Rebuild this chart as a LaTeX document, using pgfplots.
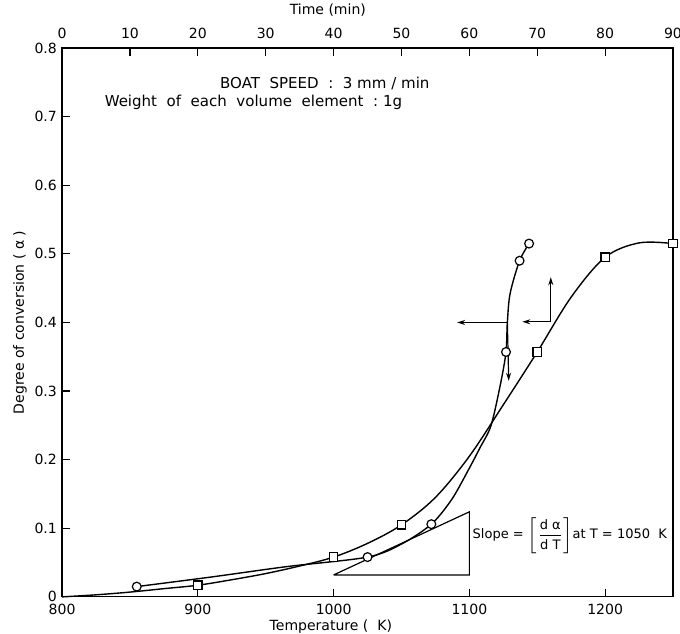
\documentclass[border=0pt]{standalone}
\usepackage{fontspec}
\setmainfont{DejaVu Sans}
\usepackage{pgfplots}
\pgfplotsset{compat=1.18}
\usetikzlibrary{arrows.meta}

\begin{document}
\fontsize{7}{8}\selectfont
\begin{tikzpicture}
\pgfplotsset{
  every axis/.append style={
    scale only axis, width=305pt, height=274pt,
    /pgf/number format/assume math mode=true,
    /pgf/number format/1000 sep={},
    tick label style={font=\fontsize{7}{8}\selectfont},
    label style={font=\fontsize{7}{8}\selectfont},
    tick align=inside, major tick length=4pt,
    line width=0.6pt, tick style={line width=0.6pt, black},
  }
}
\begin{axis}[
  xmin=800, xmax=1250, ymin=0, ymax=0.8,
  xtick={800,900,1000,1100,1200},
  ytick={0,0.1,0.2,0.3,0.4,0.5,0.6,0.7,0.8},
  yticklabels={0,0.1,0.2,0.3,0.4,0.5,0.6,0.7,0.8},
  xtick pos=left, ytick pos=left,
  xticklabel style={yshift=-1pt},
  xlabel={Temperature (\ \ K)},
  ylabel={Degree of conversion ( α )},
  xlabel style={at={(axis description cs:0.44,-0.054)}, anchor=center},
  ylabel style={at={(axis description cs:-0.069,0.5)}, anchor=center},
  clip=false,
]
\coordinate (a) at (rel axis cs:0,0);
\coordinate (b) at (rel axis cs:1,1);
% square series: read curve points
\addplot[black, line width=0.7pt, smooth, tension=0.55] coordinates {
  (800,0) (825,0.003) (850,0.007) (875,0.012) (900,0.017) (925,0.025)
  (950,0.034) (975,0.045) (1000,0.058) (1025,0.078) (1050,0.105)
  (1075,0.145) (1100,0.205) (1125,0.280) (1150,0.357) (1175,0.437)
  (1200,0.495) (1225,0.516) (1250,0.515)};
% circle series: read curve points
\addplot[black, line width=0.7pt, smooth, tension=0.5] coordinates {
  (855,0.015) (910,0.029) (965,0.044) (1025,0.058) (1050,0.077)
  (1072,0.106) (1087,0.142) (1099,0.184) (1108,0.218) (1116,0.250)
  (1123,0.311) (1127,0.357) (1128,0.400) (1130,0.442) (1137,0.490)
  (1144,0.515)};
% markers
\addplot[only marks, mark=square*, mark size=2.1pt, mark options={fill=white, draw=black, line width=0.6pt}] coordinates {
  (900,0.017) (1000,0.058) (1050,0.105) (1150,0.357) (1200,0.495) (1250,0.515)};
\addplot[only marks, mark=*, mark size=2.2pt, mark options={fill=white, draw=black, line width=0.6pt}] coordinates {
  (855,0.015) (1025,0.058) (1072,0.106) (1127,0.357) (1137,0.490) (1144,0.515)};
% slope triangle
\addplot[black, line width=0.6pt] coordinates {
  (1000,0.032) (1100,0.124) (1100,0.032) (1000,0.032)};
% arrows
\addplot[black, line width=0.6pt, -{Stealth[length=4pt,width=2.5pt]}] coordinates {(1128,0.400) (1091,0.400)};
\addplot[black, line width=0.6pt, -{Stealth[length=4pt,width=2.5pt]}] coordinates {(1128,0.400) (1129,0.315)};
\addplot[black, line width=0.6pt, -{Stealth[length=4pt,width=2.5pt]}] coordinates {(1160,0.401) (1139,0.401)};
\addplot[black, line width=0.6pt, -{Stealth[length=4pt,width=2.5pt]}] coordinates {(1160,0.401) (1160,0.466)};
\node[anchor=west, inner sep=0pt, font=\fontsize{6.5}{8}\selectfont] at (axis cs:1102,0.089)
  {Slope = $\displaystyle\left[\frac{\hbox{d α}}{\hbox{d T}}\right]$at T = 1050\ \ K};
\node[anchor=west, inner sep=0pt, font=\fontsize{7.5}{9}\selectfont] at (axis cs:916,0.749) {BOAT\ \ SPEED\ \ :\ \ 3 mm / min};
\node[anchor=west, inner sep=0pt, font=\fontsize{7.5}{9}\selectfont] at (axis cs:831,0.721) {Weight\ \ of\ \ each\ \ volume\ \ element\ \ :\ 1g};
\end{axis}
\begin{axis}[
  xmin=0, xmax=90, ymin=0, ymax=0.8,
  axis x line*=top, axis y line=none,
  axis line style={-},
  xtick={0,10,...,90},
  xticklabel style={yshift=2pt},
  xlabel={Time (min)},
  xlabel style={at={(axis description cs:0.435,1.069)}, anchor=center},
]
\end{axis}
\pgfresetboundingbox
\path[use as bounding box] ([shift={(-31pt,-18.5pt)}]a) rectangle ([shift={(3.5pt,24pt)}]b);
\end{tikzpicture}
\end{document}
